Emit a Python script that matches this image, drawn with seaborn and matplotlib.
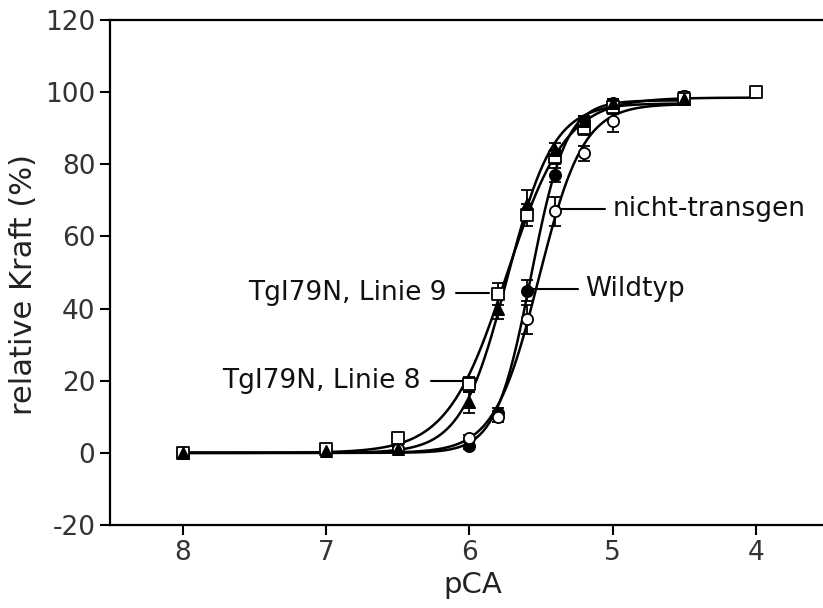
import numpy as np
import pandas as pd
import matplotlib
matplotlib.use("Agg")
import matplotlib.pyplot as plt
import seaborn as sns

# pCA-Werte der Messpunkte
pca = [8, 7, 6.5, 6, 5.8, 5.6, 5.4, 5.2, 5, 4.5, 4]

# relative Kraft (%) je Gruppe
wildtyp = [0, 0.5, 1, 2, 11, 45, 77, 92, 97, 99, np.nan]
wildtyp_err = [0.5, 0.5, 0.5, 1, 1.5, 3, 2, 1.5, 1, 1, np.nan]
nicht_transgen = [0, 0.5, 1, 4, 10, 37, 67, 83, 92, 99, np.nan]
nicht_transgen_err = [0.5, 0.5, 0.5, 1, 1.5, 4, 4, 2, 3, 1, np.nan]
linie8 = [0, 1, 4, 19, 44, 66, 82, 90, 96, 98, 100]
linie8_err = [0.5, 0.5, 1, 2, 3, 3, 2, 2, 2, 1, 1]
linie9 = [0, 0.5, 1, 14, 40, 69, 84, 92, 97, 98, np.nan]
linie9_err = [0.5, 0.5, 0.5, 3, 3, 4, 2, 1.5, 1, 1, np.nan]

gruppen = ["Wildtyp", "nicht-transgen", "TgI79N, Linie 8", "TgI79N, Linie 9"]
werte = [wildtyp, nicht_transgen, linie8, linie9]
fehler = [wildtyp_err, nicht_transgen_err, linie8_err, linie9_err]
marker = ["o", "o", "s", "^"]
gefuellt = [True, False, False, True]

# Beschriftungen: (Text, Linie von x1 nach x2 bei y, Ausrichtung)
labels = [
    ("TgI79N, Linie 9", 6.09, 5.86, 44.3, "right"),
    ("TgI79N, Linie 8", 6.27, 6.04, 20.0, "right"),
    ("Wildtyp", 5.58, 5.24, 45.4, "left"),
    ("nicht-transgen", 5.40, 5.05, 67.6, "left"),
]


def hill_fit(x, y):
    # einfache Hill-Anpassung per Gittersuche
    best = None
    for p50 in np.arange(5.2, 6.3, 0.005):
        for nh in np.arange(0.8, 5.0, 0.05):
            f = 1.0 / (1.0 + 10 ** (nh * (x - p50)))
            top = np.sum(f * y) / np.sum(f * f)
            sse = np.sum((top * f - y) ** 2)
            if best is None or sse < best[0]:
                best = (sse, p50, nh, top)
    return best[1:]


sns.set_theme(style="white")
plt.rcParams["font.family"] = ["DejaVu Sans"]
plt.rcParams["axes.unicode_minus"] = False

fig = plt.figure(figsize=(8.23, 6.08), dpi=100)
ax = fig.add_axes([0.1337, 0.1365, 0.8806, 0.8306])

for name, y, err, m, filled in zip(gruppen, werte, fehler, marker, gefuellt):
    df = pd.DataFrame({"pCA": pca, "Kraft": y, "err": err}).dropna()
    x = df["pCA"].to_numpy()
    p50, nh, top = hill_fit(x, df["Kraft"].to_numpy())
    xs = np.linspace(x.max(), x.min(), 300)
    fit = pd.DataFrame({"pCA": xs, "Kraft": top / (1.0 + 10 ** (nh * (xs - p50)))})
    sns.lineplot(data=fit, x="pCA", y="Kraft", color="black", lw=1.8, ax=ax, zorder=2)
    ax.errorbar(df["pCA"], df["Kraft"], yerr=df["err"], fmt="none", ecolor="black",
                elinewidth=1.3, capsize=4, capthick=1.3, zorder=3)
    sns.scatterplot(data=df, x="pCA", y="Kraft", marker=m, s=65,
                    color="black" if filled else "white", edgecolor="black",
                    linewidth=1.3, ax=ax, zorder=4)

for text, x1, x2, yv, ha in labels:
    ax.plot([x1, x2], [yv, yv], color="black", lw=1.5, zorder=1)
    tx = x1 + 0.07 if ha == "right" else x2 - 0.05
    ax.text(tx, yv, text, ha=ha, va="center", fontsize=19, color="#111111")

ax.set_xlim(8.507, 3.45)
ax.set_ylim(-20, 120)
ax.set_xticks([8, 7, 6, 5, 4])
ax.set_yticks(np.arange(-20, 121, 20))
ax.set_xlabel("pCA", fontsize=21, color="#222222", labelpad=4)
ax.set_ylabel("relative Kraft (%)", fontsize=22, color="#222222")
ax.yaxis.set_label_coords(-0.099, 0.477)
ax.tick_params(axis="both", direction="out", length=7, width=1.5, color="black",
               labelsize=19, labelcolor="#333333", bottom=True, left=True)
for side in ["left", "bottom", "top"]:
    ax.spines[side].set_color("black")
    ax.spines[side].set_linewidth(1.6)
ax.spines["right"].set_visible(False)

fig.savefig("out.png", dpi=100)
